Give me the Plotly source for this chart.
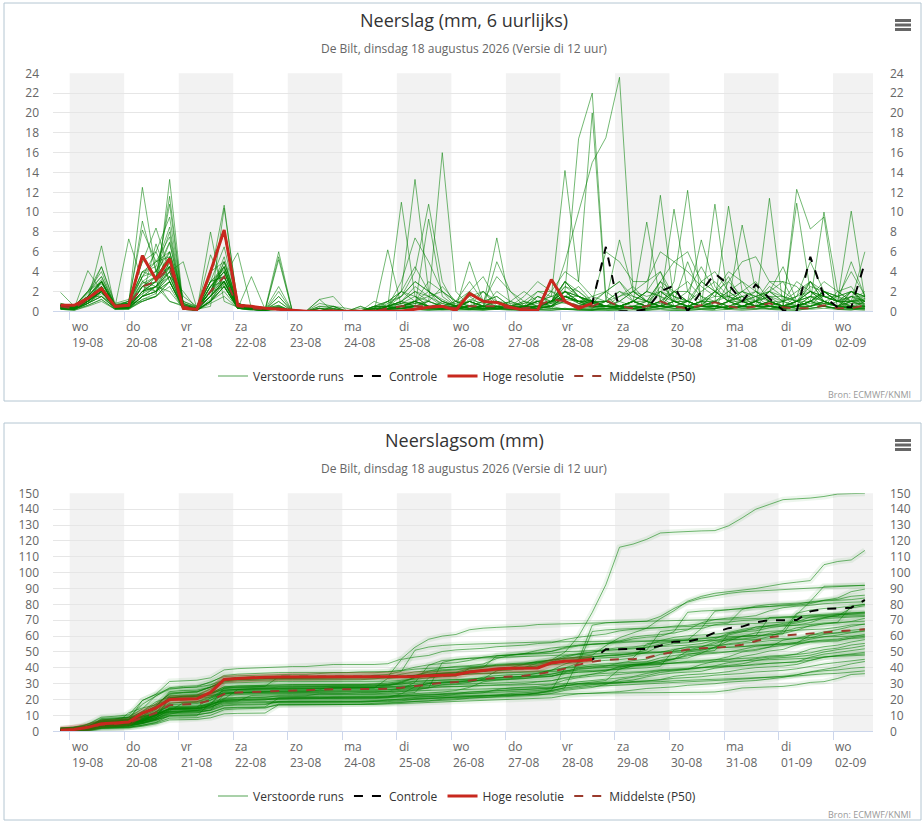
import numpy as np
import pandas as pd
import plotly.graph_objects as go

W, H = 924, 822

# tijdas: elke 6 uur (lokale tijd)
times = pd.date_range("2026-08-18 20:00", periods=60, freq="6h")

day_names = ["wo", "do", "vr", "za", "zo", "ma", "di", "wo", "do", "vr", "za", "zo", "ma", "di", "wo"]
day_dates = ["19-08", "20-08", "21-08", "22-08", "23-08", "24-08", "25-08", "26-08",
             "27-08", "28-08", "29-08", "30-08", "31-08", "01-09", "02-09"]
tick_days = pd.date_range("2026-08-19", periods=15, freq="D")
shaded_days = ["2026-08-19", "2026-08-21", "2026-08-23", "2026-08-25",
               "2026-08-27", "2026-08-29", "2026-08-31", "2026-09-02"]
x_range = ["2026-08-18 16:40", "2026-09-02 17:35"]

# neerslag per 6 uur (mm) per verstoorde run
run_01 = [0.5,0.3,1.0,2.0,0.4,0.5,2.5,3.5,6.9,0.8,0.3,2.0,5.0,0.8,0.4,0.3,0.6,0,
          0,0.3,0.2,0,0,0,
          0.8,1.5,3.0,2.0,1.2,0.5,2.0,1.0,1.5,0.5,0.3,1.5,0.8,5.0,10.0,15.0,
          17.5,23.6,2.0,3.0,4.0,0.5,0.5,0.3,0.2,3.0,5.0,5.5,3.0,3.0,0.5,0.5,1.0,1.5,0.3,0.2]
run_02 = [0.8,0.4,2.0,3.5,0.6,1.0,4.0,5.0,6.0,1.0,0.4,3.0,3.5,0.6,0.3,0.2,0.2,0,
          0,0,0,0,0,0.5,
          1.0,2.0,1.5,0.5,0.8,0.3,1.2,0.8,0.4,0.5,0.3,1.5,1.0,1.2,1.0,1.0,
          6.0,5.0,3.0,3.0,6.0,5.0,6.0,3.0,2.0,1.0,1.0,1.0,1.5,1.5,1.0,1.0,10.0,2.0,1.0,6.0]
run_03 = [0.6,0.5,1.5,4.5,0.8,1.2,5.0,8.4,4.0,1.0,0.5,3.0,3.5,0.5,0.3,0.2,0.4,0,
          0,0.5,0.5,0,0,0,
          0.5,1.0,2.0,1.5,0.8,0.5,1.5,2.0,0.8,0.5,1.0,2.0,1.5,1.0,0.6,0.8,
          0.5,0.3,0.5,0.5,0.8,0.5,0.3,0.5,0.3,0.5,0.4,0.5,0.5,0.3,12.3,8.3,9.5,0.2,0.2,0.1]
run_04 = [1.9,0.5,2.0,4.5,0.6,0.8,9.1,4.0,8.0,0.5,0.3,1.5,5.0,0.8,0.4,0.3,0.6,0,
          0,0.8,0.5,0,0,0,
          0.5,3.0,7.4,5.0,2.0,1.0,3.0,1.0,0.5,0.3,0.5,1.0,0.3,0.2,0.2,0.1,
          0.3,0.2,0.3,0.5,3.0,5.0,4.0,2.5,1.5,1.5,1.0,0.5,0.5,0.3,0.5,0.5,0.8,0.5,0.3,0.3]
run_05 = [0.5,0.2,1.2,3.0,0.5,0.6,3.5,6.0,9.5,0.7,0.2,2.0,2.5,0.3,0.2,0.1,0.3,0,
          0,0,0,0,0,0,
          0.3,0.5,0.8,1.0,0.5,0.3,5.0,1.0,0.5,0.3,0.4,0.5,1.0,2.0,0.8,0.5,
          1.0,0.5,1.0,2.0,11.7,1.0,0.5,0.5,10.8,1.0,0.5,1.0,0.5,0.3,0.5,1.0,2.0,1.5,4.0,1.6]
run_06 = [0.4,0.3,1.0,2.5,0.4,0.5,2.0,3.0,4.5,0.5,0.2,5.7,2.5,0.4,0.2,0.2,0.2,0,
          0,0,0.3,0,0,0,
          0.5,1.5,4.0,10.8,3.0,0.5,1.0,0.5,1.0,0.8,0.5,0.4,1.0,2.0,1.5,1.0,
          0.5,1.0,2.0,1.0,0.5,3.0,12.2,0.8,0.5,0.3,1.0,0.5,0.5,1.0,0.5,1.5,1.0,0.5,2.0,0.7]
run_07 = [0.6,0.4,1.5,3.0,0.7,1.0,3.5,4.0,6.0,1.5,0.5,4.0,5.0,0.8,0.3,0.2,0.5,0,
          0,0,0,0,0,0,
          0.2,0.5,1.0,2.0,1.0,0.5,1.0,0.5,7.4,0.5,0.3,0.3,0.5,1.0,0.3,0.2,
          0.3,0.5,1.0,0.5,2.0,1.5,1.0,7.2,2.5,1.0,8.7,2.0,1.0,0.5,0.3,0.5,1.0,0.5,0.3,1.0]
run_08 = [0.3,0.2,0.8,2.0,0.3,0.4,2.5,2.0,5.0,0.3,0.1,2.5,4.0,0.5,0.3,0.2,1.0,0,
          0,1.2,0,0,0,0,
          0.5,0.8,1.0,1.5,2.0,0.5,1.0,2.0,0.5,0.3,0.5,0.8,1.0,2.0,1.5,0.5,
          1.0,2.0,1.5,1.0,3.0,1.0,0.5,1.0,2.0,4.0,3.0,2.0,1.0,0.5,10.9,2.0,1.0,0.5,1.0,1.1]
run_09 = [0.5,0.3,1.5,2.5,0.5,0.6,3.0,2.5,1.0,0.5,0.3,3.5,10.7,0.5,0.3,0.2,0.3,0,
          0,0,0,0,0,0,
          0.3,0.8,1.5,0.5,0.3,0.2,0.5,0.3,5.0,2.0,0.5,0.3,1.0,0.8,0.5,1.0,
          0.5,0.5,1.0,9.0,1.0,0.5,1.0,0.5,1.0,1.5,2.0,3.0,1.0,0.5,1.0,2.0,1.5,1.0,5.0,1.5]
run_10 = [0.4,0.2,1.0,3.0,0.4,0.5,2.0,2.5,4.0,0.4,0.2,3.0,6.5,0.6,0.3,0.2,0.4,0,
          0,0,0.5,0,0,0,
          0.2,0.3,0.5,0.5,0.3,0.2,0.5,0.5,0.3,0.2,0.5,1.0,0.8,1.5,1.0,1.5,
          2.0,3.0,1.0,0.5,1.0,2.0,3.0,1.5,1.0,10.6,2.0,1.0,2.0,1.5,1.0,3.0,1.0,0.5,0.5,0.5]
run_11 = [0.8,0.5,2.0,4.0,0.5,1.0,8.2,5.0,5.5,0.8,0.4,2.0,4.5,0.8,0.4,0.2,0.4,0,
          0,0,0,0,0.5,0,
          0.2,0.5,1.0,0.5,0.3,0.2,0.5,0.5,1.0,0.5,0.3,0.5,1.0,3.0,1.5,1.0,
          1.0,0.5,0.5,1.0,0.5,0.3,0.5,1.0,2.0,1.5,1.0,0.5,11.4,0.5,0.3,0.2,0.3,0.2,0.3,0.5]
run_12 = [0.3,0.2,0.8,1.5,0.3,0.3,1.5,2.5,2.0,0.3,0.1,8.0,1.0,0.4,0.3,0.2,1.5,0,
          0,0,0,0,0,0.3,
          0.3,0.5,0.3,0.2,0.5,0.5,1.0,0.5,0.3,0.5,0.2,0.3,0.5,1.5,1.5,0.9,
          1.0,7.2,2.0,1.5,2.0,1.0,0.5,3.0,4.0,2.0,1.0,1.5,2.0,3.0,2.5,1.0,1.5,1.0,10.1,1.2]
run_13 = [0.4,0.3,1.2,2.0,0.5,7.3,3.0,2.0,3.5,0.3,0.1,1.0,2.5,0.3,0.2,0.1,0.2,0,
          0,1.2,1.5,0,0,0,
          1.0,2.0,1.0,0.5,0.3,0.2,0.5,0.5,0.3,0.3,0.5,2.0,2.0,1.5,1.0,0.8,
          0.5,0.3,0.5,0.5,2.5,1.5,1.0,0.5,0.5,0.3,0.5,1.0,1.5,1.0,1.5,5.0,2.0,1.5,2.0,1.5]
run_14 = [0.6,0.4,1.5,3.0,0.6,0.8,4.0,3.5,5.5,0.6,0.2,2.5,4.0,0.6,0.3,0.2,6.0,0,
          0,0,0,0,0,1.0,
          0.5,2.0,13.3,2.0,1.0,0.5,0.3,0.2,0.5,0.3,0.2,0.1,0.1,0.2,0.1,0.1,
          0.1,0,0,0.1,0.2,0.1,0,0,0.1,0.2,0.5,0.3,0.2,0.1,0.1,0.3,0.5,0.2,0.1,0.4]
run_15 = [0.3,0.3,4.1,2.0,0.4,0.4,1.5,2.0,3.0,0.2,0.1,1.0,3.5,0.3,3.5,0.2,0.3,0,
          0,0,0,0,0,0,
          0.3,0.5,0.5,9.3,1.5,0.5,0.3,0.5,0.3,0.2,0.3,0.2,0.2,0.3,0.1,0.1,
          0.5,0.5,0.3,0.5,1.0,10.3,2.0,0.5,0.3,0.5,1.0,0.5,1.0,0.5,1.0,2.0,1.0,0.5,1.5,1.0]
run_16 = [0.5,0.3,1.2,2.5,0.4,0.5,2.5,3.0,1.0,0.6,0.2,0.5,10.4,0.8,0.4,0.3,0.2,0,
          0,0.3,0,0,0,0,
          0.5,1.0,2.0,1.0,0.5,0.3,1.0,0.5,0.3,0.5,1.0,0.5,0.3,1.5,0.8,0.3,
          1.0,1.5,2.0,1.0,0.5,2.0,2.0,1.0,0.5,1.0,1.5,2.0,1.0,0.5,1.0,2.0,1.5,1.0,1.5,1.0]
run_17 = [0.2,0.1,0.6,1.2,0.2,0.3,1.2,1.5,3.0,0.2,0.1,1.5,3.5,0.5,0.3,0.2,2.5,0,
          0,0,0,0,0,0.5,
          0.5,0.3,0.5,0.3,1.0,0.5,0.3,0.2,0.3,0.5,0.3,0.5,1.0,2.0,1.0,0.8,
          2.0,3.0,1.5,1.0,2.0,1.0,1.0,3.0,2.0,1.0,2.0,1.5,2.0,1.0,3.0,2.0,1.0,0.5,1.5,1.5]
run_18 = [0.4,0.3,1.0,2.0,0.3,0.4,2.0,2.5,4.0,5.0,0.3,1.5,3.0,0.5,0.3,0.2,0.2,0,
          0,0,0,0,0.5,0,
          0.5,1.0,0.5,1.0,16.0,2.0,0.5,0.3,0.2,0.3,0.2,0.3,0.5,0.2,0.3,0.2,
          0.3,0.2,0.5,0.3,0.5,0.5,0.3,0.5,1.0,0.5,0.3,0.5,0.5,0.3,0.5,1.0,0.5,0.3,2.0,1.0]
run_19 = [0.2,0.2,0.8,1.5,0.3,0.4,1.8,2.5,3.5,0.3,0.1,2.0,3.0,0.4,0.2,0.1,1.0,0,
          0,0,0,0,0,0.5,
          1.0,0.5,1.0,0.5,0.5,1.0,0.5,0.5,2.0,1.0,0.5,0.5,1.0,3.0,1.5,1.0,
          0.5,0.5,1.0,0.5,1.0,0.5,0.5,1.0,1.0,2.0,1.0,1.5,1.0,0.5,1.5,3.0,1.5,1.0,2.0,1.5]
run_20 = [0.6,0.4,1.5,1.5,0.6,0.8,1.0,1.5,13.3,0.5,0.3,2.0,4.0,0.6,0.3,0.2,0.3,0,
          0,0,0,0,0,0,
          0.2,0.3,0.5,0.3,0.2,0.5,0.5,0.3,0.2,0.5,0.3,0.5,0.8,2.5,2.0,0.8,
          0.5,0.3,0.5,0.5,0.5,1.0,1.0,0.5,0.5,0.3,0.5,0.5,1.0,0.5,0.5,1.0,2.0,1.0,2.0,1.0]
run_21 = [0.3,0.2,1.0,2.0,0.3,0.4,1.5,6.8,3.0,0.3,0.1,1.0,2.5,0.3,0.2,0.1,0.3,0,
          0,0.3,0,0,0,0,
          0.5,1.0,0.5,0.3,0.5,0.3,0.2,0.3,0.5,0.3,0.2,0.5,1.0,3.0,1.5,0.8,
          1.0,0.5,1.0,2.0,1.5,0.5,0.5,1.0,1.0,0.5,1.0,2.0,1.5,0.5,0.5,1.0,2.0,1.5,1.0,1.5]
run_22 = [0.5,0.3,1.2,2.5,0.5,0.6,2.5,3.5,10.8,0.5,0.2,1.0,2.0,0.3,0.2,0.1,0.3,0,
          0,0,0,0,0.3,0.2,
          0.3,0.5,0.3,0.2,0.3,0.2,0.5,0.3,0.2,0.3,0.5,0.3,0.5,2.0,1.0,1.1,
          0.5,0.5,0.3,0.5,1.0,0.5,0.3,0.5,0.5,0.3,0.5,1.0,0.5,0.3,0.5,3.0,2.0,1.0,1.0,1.3]
run_23 = [0.4,0.3,1.0,2.0,0.4,0.5,2.0,3.0,11.6,0.4,0.1,0.8,1.5,0.3,0.2,0.1,0.2,0,
          0,0,0,0,0,0,
          0.2,0.3,0.2,0.1,0.2,0.3,0.2,0.1,0.3,0.2,0.1,0.3,0.5,1.0,0.5,0.5,
          0.5,0.5,0.3,0.5,1.0,2.0,1.0,0.5,0.5,1.0,1.5,1.0,0.5,0.5,1.0,2.5,2.0,1.0,1.0,1.2]
run_24 = [0.7,0.5,1.5,3.0,0.5,0.8,12.5,4.0,3.5,0.5,0.3,1.5,3.0,0.5,0.3,0.2,0.2,0,
          0,0.3,0.2,0,0,0,
          0.2,0.3,0.5,0.3,0.2,0.3,0.5,0.2,0.3,0.2,0.3,0.5,0.5,1.5,0.8,0.4,
          0.2,0.3,0.2,0.3,0.5,0.3,0.2,0.3,0.5,0.3,0.2,0.3,0.5,0.3,0.2,0.5,0.8,0.5,0.3,0.3]
run_25 = [0.3,0.2,0.8,1.8,0.3,0.3,1.5,2.0,3.5,2.0,0.2,1.5,3.0,0.4,0.2,0.1,0.3,0,
          0,0,0,0,0,0,
          0.3,0.5,1.0,0.5,0.3,0.5,0.5,0.3,0.5,1.0,0.5,0.5,1.0,1.5,1.0,1.1,
          0.5,0.5,1.0,0.5,0.5,1.0,0.5,0.5,1.0,0.5,0.5,1.0,0.5,0.5,1.0,1.5,1.5,1.0,1.0,1.0]
run_26 = [0.2,0.1,0.5,1.0,0.2,0.2,1.0,1.5,2.5,0.2,0.1,1.0,2.5,0.3,0.1,0.1,5.2,0,
          0,0,0,0,0,0.3,
          0.2,0.3,0.5,0.3,0.2,0.3,0.2,0.3,0.5,0.3,0.2,0.3,0.5,1.5,1.0,0.4,
          0.5,0.5,1.0,1.0,0.5,0.5,1.0,0.5,0.5,1.0,0.5,0.5,1.0,1.0,1.5,2.0,1.5,1.5,2.0,1.5]
run_27 = [0.3,0.2,1.0,6.6,0.3,0.3,1.0,1.5,3.0,0.3,0.1,1.0,2.5,0.3,0.2,0.1,0.2,0,
          0,0,0,0,0,0.5,
          0.5,0.3,0.5,0.3,0.2,0.5,0.3,0.5,0.3,0.2,0.5,0.5,1.0,1.5,1.0,0.9,
          0.3,0.3,0.5,0.3,0.5,0.5,0.3,0.5,0.5,0.3,0.5,0.5,0.8,0.5,1.0,1.5,1.0,0.5,1.0,0.7]
run_28 = [0.3,0.2,0.8,1.5,0.3,0.3,1.5,2.0,3.0,0.3,0.1,1.5,3.0,0.3,0.2,0.1,5.5,0,
          0,0,0,0,0,0.3,
          0.2,0.3,0.2,0.1,0.2,0.1,0.2,0.1,0.2,0.1,0.1,0.2,0.1,0.3,0.2,0.2,
          0.1,0.1,0,0,0,0.1,0.1,0.2,0.2,1.0,1.5,0.5,0.2,0.3,1.0,1.5,0.5,2.0,2.5,0.5]
run_29 = [0.4,0.3,1.2,2.0,0.4,0.5,2.0,3.0,4.5,0.4,0.2,2.0,3.5,5.9,0.3,0.2,0.3,0,
          0,0,0,0,0,0,
          0.1,0.2,0.3,0.2,0.1,0.2,0.1,0.2,0.3,0.2,0.1,0.2,0.3,0.2,0.2,0.1,
          0.2,0.2,0.3,0.2,0.3,0.5,0.3,0.2,0.3,0.5,0.3,0.2,0.5,0.3,0.5,0.8,0.5,0.3,0.8,0.8]
run_30 = [0.3,0.2,1.0,2.0,0.3,0.4,1.5,2.0,4.0,0.3,0.1,1.0,3.0,0.4,0.2,0.1,2.0,0,
          0,0,0,0,0,0.2,
          0.3,0.5,0.5,0.3,0.5,0.3,0.2,0.3,0.5,0.3,0.5,1.0,1.5,14.2,3.0,20.0,
          1.0,0.5,0.3,0.2,0.5,0.3,0.2,0.5,0.5,0.3,0.5,0.5,0.3,0.2,0.5,1.0,0.8,0.5,0.5,0.4]
run_31 = [0.2,0.2,0.6,1.2,0.2,0.2,1.2,1.8,4.5,0.3,0.1,1.2,2.8,0.3,0.2,0.1,1.5,0,
          0,0,0,0,0,0.4,
          0.5,0.8,0.5,0.3,0.5,0.3,1.0,0.5,0.3,0.5,0.8,1.0,1.5,2.0,17.4,22.0,
          1.5,0.5,0.2,0.1,0.3,0.2,0.1,0.2,0.3,0.2,0.1,0.2,0.3,0.2,0.1,0.3,0.5,0.3,0.2,0.2]
run_32 = [0.5,0.4,1.5,3.0,0.5,0.7,3.0,4.0,7.0,0.6,0.3,2.5,4.0,0.5,0.3,0.2,0.4,0,
          0,0,0,0,0,0.5,
          0.5,1.0,2.5,1.5,0.5,0.8,1.5,0.5,0.5,1.0,2.0,1.0,0.5,3.0,2.0,1.0,
          2.0,1.0,0.5,1.0,3.0,2.0,1.0,0.5,0.5,1.0,2.0,1.5,0.5,0.3,0.5,1.5,3.0,2.0,1.0,0.5]
run_33 = [0.4,0.3,1.2,2.5,0.4,0.5,2.5,3.0,6.0,0.5,0.2,2.0,5.5,0.6,0.3,0.2,0.3,0,
          0,0.5,0.3,0,0,0,
          6.2,0.5,1.0,3.0,2.0,1.0,0.5,1.0,3.5,2.0,1.0,0.5,1.0,2.5,1.5,0.5,
          0.5,1.5,2.5,1.0,0.5,1.0,2.0,4.5,2.0,1.0,0.5,1.0,3.0,2.0,1.0,0.5,1.0,0.5,0.5,0.3]
run_34 = [0.3,0.2,1.0,2.0,0.3,0.4,2.0,2.5,5.0,0.4,0.2,2.0,3.5,0.4,0.2,0.1,0.3,0,
          0,0,0,0,0,0.3,
          0.5,2.0,4.5,2.0,1.0,0.5,0.5,2.0,1.0,0.5,0.3,0.5,2.0,4.0,3.0,1.5,
          1.0,0.5,0.3,0.5,0.5,2.0,1.0,0.5,2.0,3.0,1.5,0.5,0.5,1.0,2.0,3.0,1.0,0.5,1.0,2.0]
run_35 = [0.6,0.4,1.8,3.5,0.6,0.8,3.5,5.0,7.5,0.8,0.3,3.0,4.5,0.6,0.3,0.2,0.3,0,
          0,0,0.3,0,0,0,
          0.3,0.5,0.8,0.5,0.3,0.5,1.0,0.5,0.3,0.5,0.8,1.5,1.0,2.0,1.0,0.5,
          0.5,0.3,1.0,2.0,4.0,1.5,0.5,1.0,1.5,3.5,1.0,0.5,2.0,1.0,0.5,0.5,1.0,0.5,0.3,0.3]
run_36 = [0.4,0.2,1.0,2.2,0.4,0.5,2.0,3.5,4.5,0.5,0.2,2.5,3.0,0.5,0.2,0.2,0.2,0,
          0,0,0,0,0,0,
          0.2,0.5,1.0,0.5,0.5,1.0,2.0,3.5,1.0,0.5,0.5,1.0,0.5,1.5,1.0,0.5,
          0.5,1.0,2.0,1.0,0.5,0.5,0.3,0.5,1.0,2.0,3.0,1.0,2.0,4.5,1.0,0.5,2.0,1.0,0.5,1.0]
run_37 = [0.5,0.3,1.3,2.8,0.5,0.6,2.8,3.5,5.5,0.6,0.3,3.0,4.2,0.6,0.3,0.2,0.3,0,
          0,0.3,0,0,0,0,
          0.5,0.3,0.5,1.0,0.5,0.3,0.5,1.0,1.5,0.5,0.3,0.5,1.0,1.5,2.5,1.0,
          0.5,0.3,0.5,0.3,2.0,1.0,5.0,1.5,0.5,0.3,0.5,1.0,0.5,0.3,0.5,1.0,0.5,0.3,1.0,0.5]
run_38 = [0.6,0.5,2.0,3.0,0.5,1.0,5.0,6.0,3.0,0.5,0.3,1.5,3.0,0.5,0.3,0.2,0.3,0,
          0,0,0,0,0,0.3,
          1.0,1.5,3.0,2.0,0.5,0.5,0.3,0.5,0.3,0.5,1.5,3.0,2.0,1.0,0.5,0.3,
          0.5,0.5,1.0,0.5,0.3,0.5,1.0,2.0,3.0,1.5,0.5,1.0,2.5,1.5,0.5,0.3,0.5,1.0,1.5,0.5]
run_39 = [0.3,0.2,0.8,2.0,0.3,0.3,1.5,2.5,4.5,0.4,0.2,2.0,4.5,0.5,0.3,0.2,0.5,0,
          0,0,0.5,0.3,0,0,
          0.3,0.5,0.5,0.3,0.3,0.5,0.5,0.3,0.5,0.3,0.5,0.5,0.5,1.5,1.0,0.5,
          0.5,0.5,1.0,2.0,1.5,1.0,0.5,0.5,2.0,1.0,0.5,0.5,1.0,0.5,0.5,1.0,2.0,1.0,0.5,0.5]
run_40 = [0.7,0.4,1.5,3.2,0.6,0.8,4.0,4.5,8.5,0.7,0.3,2.5,4.5,0.6,0.3,0.2,0.3,0,
          0,0,0,0,0,0.2,
          0.5,11.0,1.5,1.0,2.5,1.0,0.5,0.5,1.0,0.5,0.5,1.0,0.5,2.0,1.5,1.0,
          1.0,2.0,1.0,0.5,0.5,1.0,0.5,1.0,0.5,0.5,1.0,0.5,1.0,0.5,0.5,1.0,0.5,0.3,0.5,0.5]

# hoge resolutie (tot 28-08 14 uur) en controlerun
hres_6h = [0.6,0.6,1.3,2.3,0.5,0.6,5.6,3.2,5.3,0.3,0.2,4.0,8.2,0.6,0.5,0.3,0.2,0.1,0,0,
           0,0,0,0,0,0,0.2,0.4,0.5,0.1,1.8,1.0,0.9,0.4,0.1,0.1,3.2,1.0,0.3,0.8]
control_6h = [0.6,0.6,1.3,2.3,0.5,0.6,5.6,3.2,5.3,0.3,0.2,4.0,8.2,0.6,0.5,0.3,0.2,0.1,0,0,
              0,0,0,0,0,0,0.2,0.4,0.5,0.1,1.8,1.0,0.9,0.4,0.1,0.1,3.2,1.0,0.3,0.8,
              6.5,0,0,0.2,2.0,2.6,0,2.0,3.8,2.7,1.0,2.7,1.3,0.1,0,5.5,1.5,0.4,0.4,4.9]
# middelste (P50), apart voor 6-uurlijks en voor de som
p50_6h = [0.5,0.3,1.2,2.3,0.5,0.6,2.5,3.0,4.5,0.5,0.2,2.0,3.5,0.5,0.3,0.2,0.3,0,0,0,
          0.1,0,0,0,0.3,0.5,0.5,0.5,0.5,0.3,0.5,0.5,0.5,0.3,0.3,0.5,1.2,1.0,0.5,0.5,
          1.1,0.5,0.3,0.5,1.0,0.5,0.3,0.6,0.9,0.5,0.3,0.5,0.8,0.4,0.3,0.3,0.6,0.3,0.3,0.6]
p50_sum = [0.7,1.0,2.2,4.2,4.8,5.5,8.5,11.5,16.5,17.0,17.3,19.5,23.5,24.5,24.8,25.0,25.5,25.8,25.8,26.2,
           26.5,26.5,26.5,26.5,26.8,27.5,28.5,29.5,30.5,31.0,32.0,33.0,33.8,34.5,35.0,36.0,37.5,39.5,42.0,43.9,
           45.0,45.4,45.4,46.4,48.5,50.0,51.5,52.3,52.9,53.3,54.5,57.0,59.2,60.3,61.0,61.8,62.5,63.2,63.8,64.3]

runs = [run_01, run_02, run_03, run_04, run_05, run_06, run_07, run_08, run_09, run_10,
        run_11, run_12, run_13, run_14, run_15, run_16, run_17, run_18, run_19, run_20,
        run_21, run_22, run_23, run_24, run_25, run_26, run_27, run_28, run_29, run_30,
        run_31, run_32, run_33, run_34, run_35, run_36, run_37, run_38, run_39, run_40]

GREEN = "rgba(0,128,0,0.55)"
HALO = "rgba(0,128,0,0.07)"
RED = "#c8281e"
P50C = "#9b3a2c"
FONT = "Open Sans, sans-serif"


def px(x):
    return x / W


def py(y):
    return 1 - y / H


fig = go.Figure()

panels = [
    # (xaxis, yaxis links, yaxis rechts, legenda, cumulatief)
    ("x", "y", "y2", "legend", False),
    ("x2", "y3", "y4", "legend2", True),
]

for xa, ya, yr, lg, cum in panels:
    if cum:
        # lichte band rond de sommen, zoals in het origineel
        for r in runs:
            fig.add_trace(go.Scatter(x=times[:len(r)], y=np.cumsum(r), xaxis=xa, yaxis=ya, mode="lines",
                                     line=dict(color=HALO, width=6), showlegend=False, hoverinfo="skip"))
    for r in runs:
        vals = np.cumsum(r) if cum else r
        fig.add_trace(go.Scatter(x=times[:len(r)], y=vals, xaxis=xa, yaxis=ya, mode="lines",
                                 line=dict(color=GREEN, width=1), showlegend=False, hoverinfo="skip"))
    # legenda-item voor de verstoorde runs (hangt aan de rechter as zodat die getekend wordt)
    fig.add_trace(go.Scatter(x=[None], y=[None], xaxis=xa, yaxis=yr, mode="lines", name="Verstoorde runs",
                             line=dict(color="#a9d1a9", width=2), legend=lg, legendrank=1))
    fig.add_trace(go.Scatter(x=times, y=p50_sum if cum else p50_6h, xaxis=xa, yaxis=ya, mode="lines",
                             name="Middelste (P50)", line=dict(color=P50C, width=2, dash="dash"),
                             legend=lg, legendrank=4, hoverinfo="skip"))
    fig.add_trace(go.Scatter(x=times, y=np.cumsum(control_6h) if cum else control_6h, xaxis=xa, yaxis=ya,
                             mode="lines", name="Controle", line=dict(color="black", width=2, dash="dash"),
                             legend=lg, legendrank=2, hoverinfo="skip"))
    hres_vals = np.cumsum(hres_6h) if cum else hres_6h
    if cum:
        fig.add_trace(go.Scatter(x=times[:len(hres_6h)], y=hres_vals, xaxis=xa, yaxis=ya, mode="lines",
                                 line=dict(color="rgba(200,40,30,0.25)", width=8), showlegend=False,
                                 hoverinfo="skip"))
    fig.add_trace(go.Scatter(x=times[:len(hres_6h)], y=hres_vals, xaxis=xa, yaxis=ya, mode="lines",
                             name="Hoge resolutie", line=dict(color=RED, width=3),
                             legend=lg, legendrank=3, hoverinfo="skip"))

xaxis_common = dict(domain=[px(53), px(873)], type="date", range=x_range, tickvals=tick_days,
                    showticklabels=False, ticks="outside", ticklen=8, tickcolor="#ccd6eb",
                    showline=True, linecolor="#ccd6eb", showgrid=False, zeroline=False, fixedrange=True)
yleft = dict(gridcolor="#e6e6e6", zeroline=False, ticks="", tickfont=dict(size=12, color="#666"),
             ticklabelstandoff=13, fixedrange=True)
yright = dict(side="right", showgrid=False, zeroline=False, ticks="", tickfont=dict(size=12, color="#666"),
              ticklabelstandoff=16, fixedrange=True)

shapes = []
annotations = []
for xa, ya, yr, lg, cum in panels:
    off = 0 if xa == "x" else 420
    # grijze dagbanden
    for d in shaded_days:
        d0 = pd.Timestamp(d)
        d1 = min(d0 + pd.Timedelta(days=1), pd.Timestamp(x_range[1]))
        shapes.append(dict(type="rect", xref=xa, yref=ya + " domain", x0=d0, x1=d1, y0=0, y1=1,
                           fillcolor="#f2f2f2", line=dict(width=0), layer="below"))
    # kader rond de grafiek
    shapes.append(dict(type="rect", xref="paper", yref="paper", x0=px(4), x1=px(921),
                       y0=py(401 + off - (1 if off else 0)), y1=py(3 + off),
                       line=dict(color="#b4c6d2", width=1)))
    # menu-icoon
    for yy in (20.5, 25, 29.5):
        shapes.append(dict(type="line", xref="paper", yref="paper", x0=px(895), x1=px(911),
                           y0=py(yy + off), y1=py(yy + off), line=dict(color="#666", width=3)))
    # x-as labels
    for t, nm, dd in zip(tick_days, day_names, day_dates):
        annotations.append(dict(x=t, xref=xa, y=0, yref=ya + " domain", yanchor="top", xanchor="left",
                                yshift=-5, align="left", showarrow=False, text=nm + "<br>" + dd,
                                font=dict(size=12, color="#666", family=FONT)))
    annotations.append(dict(x=px(913), xref="paper", y=py(394 + off), yref="paper", xanchor="right",
                            yanchor="middle", showarrow=False, text="Bron: ECMWF/KNMI",
                            font=dict(size=9, color="#999", family=FONT)))

titles = [("Neerslag (mm, 6 uurlijks)", 20), ("Neerslagsom (mm)", 440)]
for txt, yy in titles:
    annotations.append(dict(x=px(464), xref="paper", y=py(yy), yref="paper", xanchor="center",
                            yanchor="middle", showarrow=False, text=txt,
                            font=dict(size=18, color="#333", family=FONT)))
    annotations.append(dict(x=px(464), xref="paper", y=py(yy + 28.5), yref="paper", xanchor="center",
                            yanchor="middle", showarrow=False,
                            text="De Bilt, dinsdag 18 augustus 2026 (Versie di 12 uur)",
                            font=dict(size=12, color="#666", family=FONT)))

legend_common = dict(orientation="h", xanchor="center", x=px(457), yanchor="middle",
                     font=dict(size=12, color="#333", family=FONT), bgcolor="rgba(0,0,0,0)",
                     itemclick=False, itemdoubleclick=False, traceorder="normal")

fig.update_layout(
    width=W, height=H, margin=dict(l=0, r=0, t=0, b=0, autoexpand=False),
    paper_bgcolor="white", plot_bgcolor="white",
    font=dict(family=FONT, color="#333"),
    xaxis=dict(xaxis_common, anchor="y"),
    yaxis=dict(yleft, domain=[py(311.3), py(73.3)], range=[0, 24], dtick=2, anchor="x"),
    yaxis2=dict(yright, overlaying="y", range=[0, 24], dtick=2, anchor="x"),
    xaxis2=dict(xaxis_common, anchor="y3"),
    yaxis3=dict(yleft, domain=[py(731.3), py(493.3)], range=[0, 150], dtick=10, anchor="x2"),
    yaxis4=dict(yright, overlaying="y3", range=[0, 150], dtick=10, anchor="x2"),
    legend=dict(legend_common, y=py(376)),
    legend2=dict(legend_common, y=py(796)),
    shapes=shapes, annotations=annotations,
    hovermode=False,
)

fig.write_html("out.html", config={"displayModeBar": False},
               post_script="document.body.style.margin='0';")
